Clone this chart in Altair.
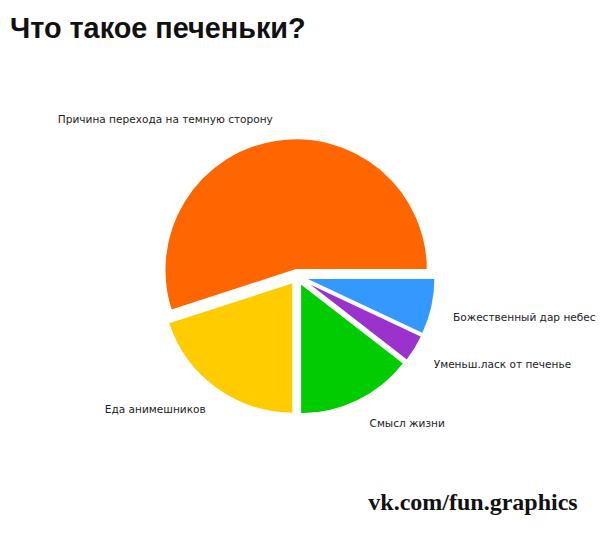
import math
import altair as alt
import pandas as pd

# Slices, listed clockwise starting at 3 o'clock
categories = [
    "Божественный дар небес",
    "Уменьш.ласк от печенье",
    "Смысл жизни",
    "Еда анимешников",
    "Причина перехода на темную сторону",
]
values = [7, 3.5, 14.5, 20, 55]
colors = ["#3399FF", "#9933CC", "#00CC00", "#FFCC00", "#FF6600"]

title_text = "Что такое печеньки?"
watermark = "vk.com/fun.graphics"

df = pd.DataFrame({"label": categories, "value": values, "idx": list(range(len(categories)))})
wm_df = pd.DataFrame({"t": [watermark]})

START = math.pi / 2
theta_scale = alt.Scale(domain=[0, 1], range=[START, START + 2 * math.pi])
color_scale = alt.Scale(domain=categories, range=colors)

CX, CY = 301, 226      # pie centre inside the plot area
R = 137                # outer radius
EXPLODE = 7            # every slice pulled out along its middle angle
LABEL_R = 162

base = (
    alt.Chart(df)
    .transform_joinaggregate(total="sum(value)")
    .transform_calculate(frac="datum.value / datum.total")
    .transform_window(cum="sum(frac)", sort=[alt.SortField("idx")], frame=[None, 0])
    .transform_calculate(start="datum.cum - datum.frac", mid="datum.cum - datum.frac / 2")
    .transform_calculate(ang=f"{START} + datum.mid * 2 * PI")
    .transform_calculate(
        sx="sin(datum.ang)",
        sy="-cos(datum.ang)",
    )
    .transform_calculate(
        px=f"{CX} + {EXPLODE} * datum.sx",
        py=f"{CY} + {EXPLODE} * datum.sy",
    )
)

arcs = base.mark_arc(outerRadius=R, stroke="white", strokeWidth=2).encode(
    theta=alt.Theta("start:Q", scale=theta_scale, stack=None),
    theta2="cum:Q",
    color=alt.Color("label:N", scale=color_scale, legend=None),
    x=alt.X("px:Q", scale=None, axis=None),
    y=alt.Y("py:Q", scale=None, axis=None),
)

text_style = dict(font="DejaVu Sans", fontSize=11, color="#222222", dy=2)
text_enc = dict(
    theta=alt.Theta("mid:Q", scale=theta_scale, stack=None),
    radius=alt.value(LABEL_R),
    text="label:N",
    x=alt.value(CX),
    y=alt.value(CY),
)


def label_layer(cond, align, baseline, dx):
    return (
        base.transform_filter(cond)
        .mark_text(align=align, baseline=baseline, dx=dx, **text_style)
        .encode(**text_enc)
    )


labels = [
    label_layer("datum.sx >= 0 && datum.sy >= 0", "left", "top", 4),
    label_layer("datum.sx >= 0 && datum.sy < 0", "left", "bottom", 4),
    label_layer("datum.sx < 0 && datum.sy >= 0", "right", "top", 0),
    label_layer("datum.sx < 0 && datum.sy < 0", "right", "bottom", 0),
]

wm = (
    alt.Chart(wm_df)
    .mark_text(font="Liberation Serif", fontWeight="bold", fontSize=25, align="left",
               baseline="alphabetic", color="#111111")
    .encode(text="t:N", x=alt.value(375), y=alt.value(469))
)

chart = (
    alt.layer(arcs, *labels, wm)
    .properties(
        width=588,
        height=470,
        padding={"left": 0, "top": -3, "right": 0, "bottom": 0},
        background="white",
        title=alt.Title(title_text, anchor="start", fontSize=30, font="Liberation Sans",
                        fontWeight="bold", color="#111111", offset=16, dx=2),
    )
    .configure_view(stroke=None)
)

chart.save("out.html", embed_options={"renderer": "svg", "actions": False})
